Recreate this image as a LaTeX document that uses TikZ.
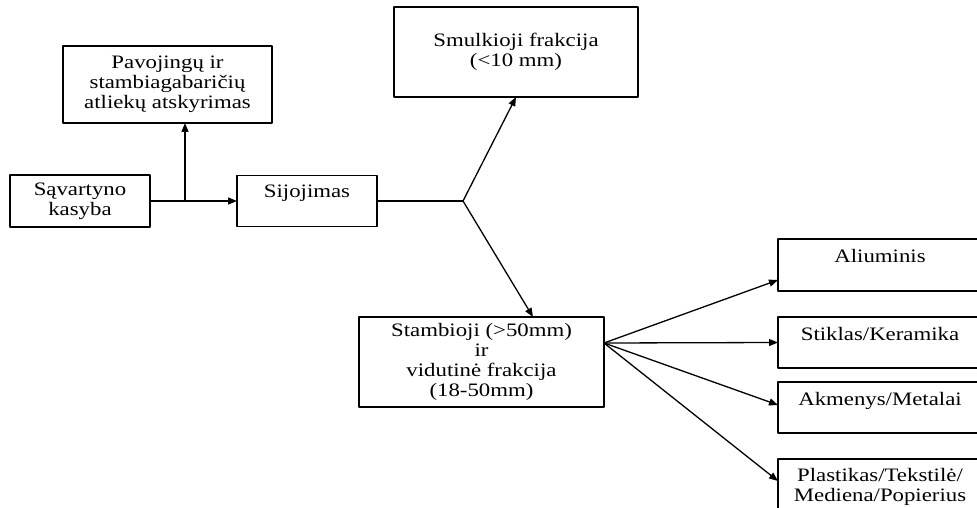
\documentclass[tikz,border=0pt]{standalone}
\usepackage{fontspec}
\setmainfont[FakeStretch=1.2]{Liberation Serif}
\usetikzlibrary{arrows.meta,positioning}
\begin{document}
\begin{tikzpicture}[x=1pt, y=-1pt, line cap=round, line join=round,
    box/.style={draw, line width=1.3pt, inner sep=0pt, outer sep=0pt, align=center,
      font=\fontsize{19}{20}\selectfont},
    txt/.style={inner sep=0pt, align=center, font=\fontsize{19}{20}\selectfont},
    link/.style={line width=1.3pt},
    arr/.style={link, -{Triangle[length=9pt,width=7pt]}}]
  \useasboundingbox (0,0) rectangle (977,508);
  \clip (0,0) rectangle (977,508);
  \node[box, minimum width=140, minimum height=52] (kas) at (80,201) {Sąvartyno\\kasyba};
  \node[box, minimum width=209, minimum height=77] (pav) at (167.5,84.5) {Pavojingų ir\\stambiagabaričių\\atliekų atskyrimas};
  \node[box, minimum width=140, minimum height=51] (sij) at (307,201) {};
  \node[txt, below=9pt of sij.north] (sijt) {Sijojimas};
  \node[box, minimum width=244, minimum height=90] (sml) at (516,52) {Smulkioji frakcija\\(<10 mm)};
  \node[box, minimum width=245, minimum height=90] (stb) at (481.5,362) {Stambioji (>50mm)\\ir\\vidutinė frakcija\\(18-50mm)};
  \node[box, minimum width=204, minimum height=52] (alu) at (880,265) {};
  \node[txt, below=10pt of alu.north] (alut) {Aliuminis};
  \node[box, minimum width=204, minimum height=51] (stk) at (880,342.5) {};
  \node[txt, below=10pt of stk.north] (stkt) {Stiklas/Keramika};
  \node[box, minimum width=204, minimum height=51] (akm) at (880,407.5) {};
  \node[txt, below=10pt of akm.north] (akmt) {Akmenys/Metalai};
  \node[box, minimum width=204, minimum height=71] (pla) at (880,494.5) {};
  \node[txt, below=9pt of pla.north] (plat) {Plastikas/Tekstilė/\\Mediena/Popierius};
  \coordinate (j1) at (185,201);
  \coordinate (j2) at (463,201);
  \coordinate (fan) at ([yshift=19pt]stb.east);
  \draw[arr] (kas.east) -- (sij.west);
  \draw[arr] (j1) -- (j1 |- pav.south);
  \draw[link] (sij.east) -- (j2);
  \draw[arr] (j2) -- (sml.south);
  \draw[arr] (j2) -- ([xshift=51.5pt]stb.north);
  \draw[arr] (fan) -- ([yshift=-15pt]alu.west);
  \draw[arr] (fan) -- (stk.west);
  \draw[arr] (fan) -- ([yshift=2.5pt]akm.west);
  \draw[arr] (fan) -- ([yshift=13.5pt]pla.west);
\end{tikzpicture}
\end{document}
